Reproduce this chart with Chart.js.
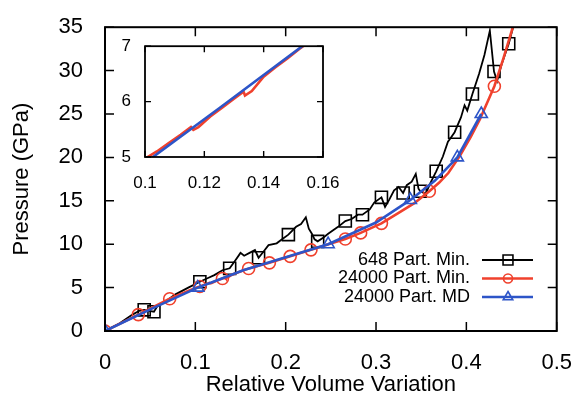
<!DOCTYPE html>
<html>
<head>
<meta charset="utf-8">
<script src="https://cdn.jsdelivr.net/npm/chart.js@4.4.0/dist/chart.umd.min.js"></script>
<style>
  body { margin: 0; background: #fff; }
  #wrap { position: relative; width: 583px; height: 405px; }
  #main { position: absolute; left: 0; top: 0; }
  #inset { position: absolute; left: 100px; top: 30px; }
</style>
</head>
<body>
<div id="wrap">
  <canvas id="main" width="583" height="405"></canvas>
  <canvas id="inset" width="250" height="160"></canvas>
</div>
<script>
// tick labels
const xTicks = [0, 0.1, 0.2, 0.3, 0.4, 0.5];
const yTicks = [0, 5, 10, 15, 20, 25, 30, 35];
const insetXTicks = [0.1, 0.12, 0.14, 0.16];
const insetYTicks = [5, 6, 7];

const seriesNames = ['648 Part. Min.', '24000 Part. Min.', '24000 Part. MD'];

// 648 particles, minimisation (black, squares)
const smallX = [0, 0.0163, 0.0304, 0.038, 0.0434, 0.0488, 0.0542, 0.0575, 0.0672, 0.078, 0.0922, 0.105,
  0.114, 0.121, 0.130, 0.138, 0.144, 0.150, 0.154, 0.160, 0.166, 0.170, 0.176, 0.181, 0.190, 0.196, 0.203,
  0.2115, 0.217, 0.2223, 0.2256, 0.229, 0.232, 0.2354, 0.2419, 0.247, 0.258, 0.266, 0.273, 0.280, 0.285,
  0.293, 0.298, 0.306, 0.310, 0.3145, 0.320, 0.325, 0.330, 0.334, 0.3395, 0.344, 0.347, 0.349, 0.355,
  0.360, 0.3666, 0.374, 0.3796, 0.383, 0.387, 0.394, 0.398, 0.401, 0.4067, 0.414, 0.420, 0.426, 0.4306,
  0.434, 0.439, 0.4469, 0.452];
const smallP = [0, 0.89, 1.89, 2.33, 2.44, 2.33, 2.22, 2.78, 3.44, 4.22, 5.0, 5.67,
  6.11, 6.44, 7.0, 7.22, 8.1, 9.0, 8.67, 9.0, 9.33, 8.44, 9.22, 9.89, 10.1, 10.56, 11.1,
  12.0, 12.33, 13.1, 11.78, 11.2, 10.56, 10.33, 10.78, 11.2, 12.0, 12.67, 12.9, 13.4, 13.4,
  14.0, 14.8, 15.4, 14.3, 15.1, 16.2, 16.6, 15.9, 16.8, 17.2, 18.1, 16.4, 16.1, 15.8,
  17.0, 18.4, 20.1, 21.8, 22.3, 22.9, 24.6, 26.0, 25.4, 27.3, 29.6, 31.8, 34.6, 29.9,
  28.8, 30.7, 33.1, 35.1];
const smallMarkX = [0.0434, 0.0542, 0.105, 0.138, 0.170, 0.203, 0.2354, 0.266, 0.285, 0.306, 0.330,
  0.349, 0.3666, 0.387, 0.4067, 0.4306, 0.4469];
const smallMarkP = [2.44, 2.22, 5.67, 7.22, 8.44, 11.1, 10.33, 12.67, 13.4, 15.4, 15.9,
  16.1, 18.4, 22.9, 27.3, 29.9, 33.1];

// 24000 particles, minimisation (red, circles)
const largeX = [0, 0.0369, 0.0716, 0.100, 0.104, 0.108, 0.112, 0.1155, 0.1163, 0.118, 0.122, 0.126,
  0.130, 0.1332, 0.1337, 0.136, 0.140, 0.144, 0.148, 0.152, 0.156, 0.182, 0.205, 0.228, 0.249, 0.266,
  0.283, 0.306, 0.325, 0.342, 0.359, 0.370, 0.380, 0.393, 0.405, 0.415, 0.431, 0.441, 0.452];
const largeP = [0, 1.89, 3.72, 4.97, 5.1, 5.25, 5.4, 5.54, 5.49, 5.54, 5.73, 5.89,
  6.05, 6.18, 6.11, 6.19, 6.45, 6.62, 6.78, 6.95, 7.1, 7.85, 8.6, 9.35, 10.05, 10.6,
  11.3, 12.4, 13.6, 14.7, 16.1, 17.1, 18.2, 20.2, 22.4, 24.4, 28.2, 31.4, 35.2];
const largeMarkX = [0, 0.0369, 0.0716, 0.105, 0.130, 0.159, 0.182, 0.205, 0.228, 0.266, 0.283, 0.306, 0.359, 0.431];
const largeMarkP = [0, 1.89, 3.72, 5.13, 6.05, 7.2, 7.85, 8.6, 9.35, 10.6, 11.3, 12.4, 16.1, 28.2];

// 24000 particles, MD (blue, triangles)
const mdX = [0, 0.0525, 0.1027, 0.125, 0.153, 0.2, 0.247, 0.3, 0.338, 0.365, 0.39, 0.4165];
const mdP = [0, 2.6, 5.0, 5.88, 7.0, 8.5, 10.0, 12.5, 15.1, 17.3, 20.0, 25.0];
const mdMarkX = [0, 0.1027, 0.247, 0.338, 0.39, 0.4165];
const mdMarkP = [0, 5.0, 10.0, 15.1, 20.0, 25.0];

const BLACK = '#000000';
const RED = '#f0412d';
const BLUE = '#2d55c8';
const FONT = '"Liberation Sans", Arial, Helvetica, sans-serif';

Chart.defaults.font.family = FONT;
Chart.defaults.color = '#000';

const pts = (xs, ys) => xs.map((x, i) => ({x, y: ys[i]}));
const fmt = v => String(Number(v.toFixed(3)));

const styles = [
  {color: BLACK, width: 1.8, pointStyle: 'rect', radius: 8.5, keyRadius: 7},
  {color: RED, width: 2.6, pointStyle: 'circle', radius: 6, keyRadius: 4.5},
  {color: BLUE, width: 2.6, pointStyle: 'triangle', radius: 7, keyRadius: 5.5},
];

function lineSet(xs, ys, st) {
  return {data: pts(xs, ys), showLine: true, borderColor: st.color, borderWidth: st.width,
    pointRadius: 0, tension: 0, fill: false};
}
function markSet(xs, ys, st) {
  return {data: pts(xs, ys), showLine: false, pointStyle: st.pointStyle, pointRadius: st.radius,
    pointBorderColor: st.color, pointBackgroundColor: 'rgba(0,0,0,0)', pointBorderWidth: 1.6};
}

const frame = {
  id: 'frame',
  afterDraw(chart, args, opts) {
    const {ctx, chartArea: a, scales: {x, y}} = chart;
    ctx.save();
    ctx.strokeStyle = '#000';
    ctx.lineWidth = opts.tickWidth;
    ctx.beginPath();
    x.ticks.forEach(t => {
      const px = x.getPixelForValue(t.value);
      ctx.moveTo(px, a.bottom); ctx.lineTo(px, a.bottom - opts.len);
      ctx.moveTo(px, a.top); ctx.lineTo(px, a.top + opts.len);
    });
    y.ticks.forEach(t => {
      const py = y.getPixelForValue(t.value);
      ctx.moveTo(a.left, py); ctx.lineTo(a.left + opts.len, py);
      ctx.moveTo(a.right, py); ctx.lineTo(a.right - opts.len, py);
    });
    ctx.stroke();
    ctx.lineWidth = opts.width;
    ctx.strokeRect(a.left, a.top, a.right - a.left, a.bottom - a.top);
    ctx.restore();
  }
};

const keyBox = {
  id: 'keyBox',
  afterDraw(chart) {
    const {ctx} = chart;
    ctx.save();
    ctx.font = '18px ' + FONT;
    ctx.textAlign = 'right';
    ctx.textBaseline = 'middle';
    seriesNames.forEach((name, i) => {
      const st = styles[i];
      const yy = 260 + i * 18.5;
      ctx.fillStyle = '#000';
      ctx.fillText(name, 470, yy);
      ctx.strokeStyle = st.color;
      ctx.lineWidth = st.width;
      ctx.beginPath(); ctx.moveTo(482, yy); ctx.lineTo(533, yy); ctx.stroke();
      ctx.lineWidth = 1.6;
      ctx.fillStyle = 'rgba(0,0,0,0)';
      Chart.helpers.drawPoint(ctx, {pointStyle: st.pointStyle, radius: st.keyRadius, borderWidth: 1.6, rotation: 0}, 508, yy);
    });
    ctx.restore();
  }
};

const whiteArea = {
  id: 'whiteArea',
  beforeDatasetsDraw(chart) {
    const {ctx, chartArea: a} = chart;
    ctx.save();
    ctx.fillStyle = '#fff';
    ctx.fillRect(a.left, a.top, a.right - a.left, a.bottom - a.top);
    ctx.restore();
  }
};

new Chart(document.getElementById('main'), {
  type: 'scatter',
  data: {
    datasets: [
      lineSet(mdX, mdP, styles[2]),
      markSet(mdMarkX, mdMarkP, styles[2]),
      lineSet(largeX, largeP, styles[1]),
      markSet(largeMarkX, largeMarkP, styles[1]),
      lineSet(smallX, smallP, styles[0]),
      markSet(smallMarkX, smallMarkP, styles[0]),
    ]
  },
  options: {
    responsive: false,
    animation: false,
    events: [],
    layout: {padding: {top: 16, right: 17, left: 0, bottom: 0}},
    plugins: {legend: {display: false}, tooltip: {enabled: false},
      frame: {len: 9, width: 2, tickWidth: 1.5}},
    scales: {
      x: {
        type: 'linear', min: 0, max: 0.5,
        afterBuildTicks: s => { s.ticks = xTicks.map(v => ({value: v})); },
        afterFit: s => { s.height = 74; },
        ticks: {font: {size: 22}, padding: 11, maxRotation: 0, autoSkip: false, callback: v => fmt(v)},
        grid: {display: false},
        border: {display: false},
        title: {display: true, text: 'Relative Volume Variation', font: {size: 22}, padding: {top: 0, bottom: 7}}
      },
      y: {
        type: 'linear', min: 0, max: 35,
        afterBuildTicks: s => { s.ticks = yTicks.map(v => ({value: v})); },
        afterFit: s => { s.width = 105; },
        ticks: {font: {size: 22}, padding: 14, autoSkip: false, callback: v => fmt(v)},
        grid: {display: false},
        border: {display: false},
        title: {display: true, text: 'Pressure (GPa)', font: {size: 22}, padding: {top: 9, bottom: 0}}
      }
    }
  },
  plugins: [frame, keyBox]
});

new Chart(document.getElementById('inset'), {
  type: 'scatter',
  data: {
    datasets: [
      lineSet(mdX, mdP, styles[2]),
      lineSet(largeX, largeP, styles[1]),
    ]
  },
  options: {
    responsive: false,
    animation: false,
    events: [],
    layout: {padding: {top: 13, right: 27, left: 0, bottom: 0}},
    plugins: {legend: {display: false}, tooltip: {enabled: false},
      frame: {len: 6, width: 1.8, tickWidth: 1.4}},
    scales: {
      x: {
        type: 'linear', min: 0.1, max: 0.16,
        afterBuildTicks: s => { s.ticks = insetXTicks.map(v => ({value: v})); },
        afterFit: s => { s.height = 33; },
        ticks: {font: {size: 17}, padding: 8, maxRotation: 0, autoSkip: false, callback: v => fmt(v)},
        grid: {display: false},
        border: {display: false}
      },
      y: {
        type: 'linear', min: 5, max: 7,
        afterBuildTicks: s => { s.ticks = insetYTicks.map(v => ({value: v})); },
        afterFit: s => { s.width = 45; },
        ticks: {font: {size: 17}, padding: 6, autoSkip: false, callback: v => fmt(v)},
        grid: {display: false},
        border: {display: false}
      }
    }
  },
  plugins: [whiteArea, frame]
});
</script>
</body>
</html>
